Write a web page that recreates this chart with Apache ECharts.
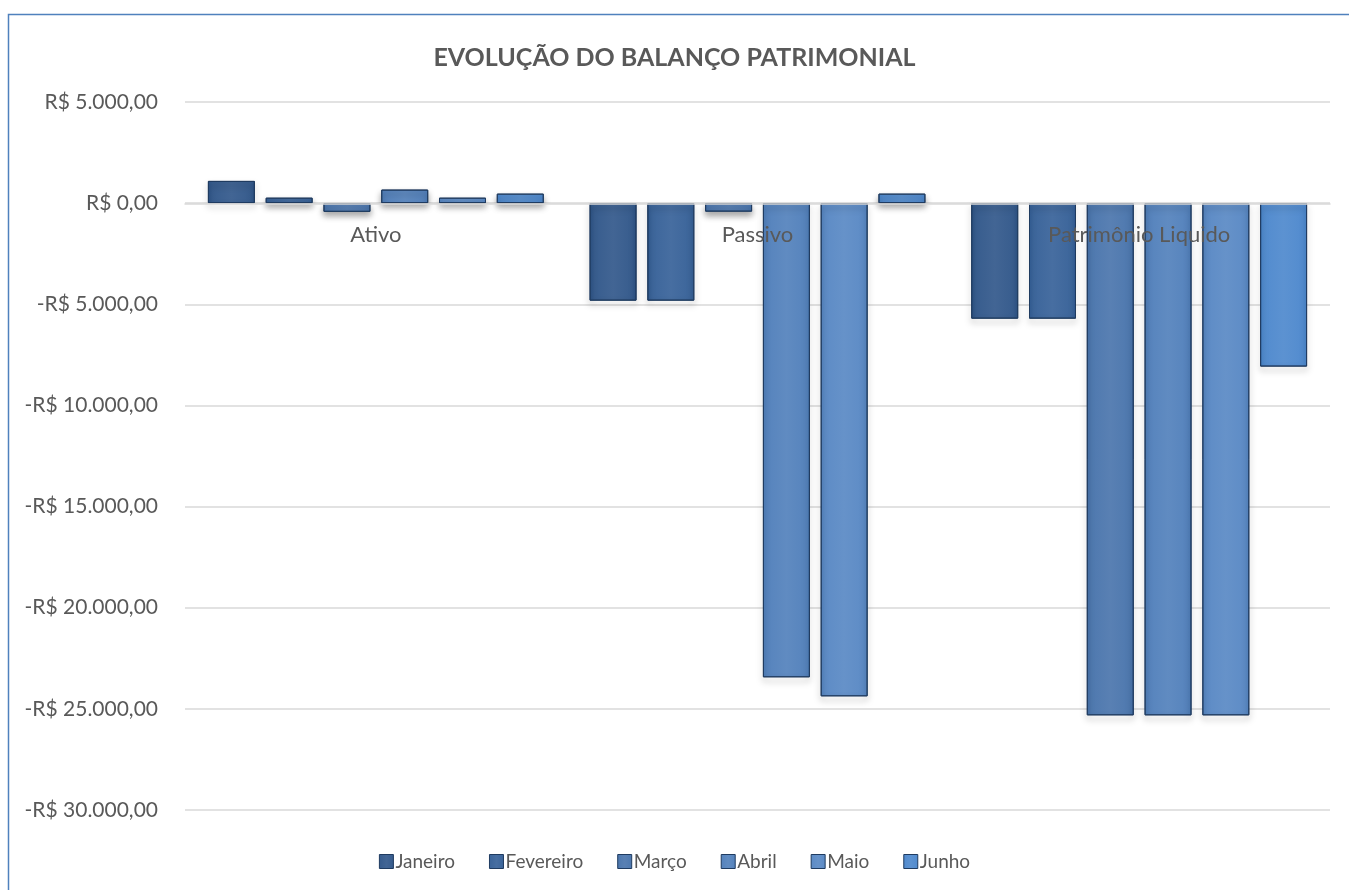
<!DOCTYPE html>
<html>
<head>
    <meta charset="utf-8">
    <title>Evolução do Balanço Patrimonial</title>
    <style>
        html, body { margin: 0; padding: 0; background: #fff; }
        #main { width: 1349px; height: 890px; }
    </style>
</head>
<body>
    <div id="main"></div>
    <script src="https://cdn.jsdelivr.net/npm/echarts@6/dist/echarts.min.js"></script>
    <script>
    var categorias = ['Ativo', 'Passivo', 'Patrimônio Liquido'];
    var meses = ['Janeiro', 'Fevereiro', 'Março', 'Abril', 'Maio', 'Junho'];
    var janeiro = [1100, -4820, -5710];
    var fevereiro = [270, -4820, -5710];
    var marco = [-430, -420, -25320];
    var abril = [670, -23440, -25320];
    var maio = [270, -24380, -25320];
    var junho = [470, 470, -8080];
    var valores = [janeiro, fevereiro, marco, abril, maio, junho];
    var cores = ['#2d5488', '#335e96', '#4672ab', '#4e7eba', '#5586c3', '#4a86cc'];

    function clarear(hex, f) {
        var n = parseInt(hex.slice(1), 16);
        var r = (n >> 16) & 255, g = (n >> 8) & 255, b = n & 255;
        r = Math.round(r + (255 - r) * f);
        g = Math.round(g + (255 - g) * f);
        b = Math.round(b + (255 - b) * f);
        return 'rgb(' + r + ',' + g + ',' + b + ')';
    }

    function moeda(v) {
        var s = Math.abs(v).toFixed(2).split('.');
        var inteiro = s[0].replace(/\B(?=(\d{3})+(?!\d))/g, '.');
        return (v < 0 ? '-' : '') + 'R$ ' + inteiro + ',' + s[1];
    }

    var fonte = 'Lato, "Open Sans", sans-serif';
    var myChart = echarts.init(document.getElementById('main'));

    var series = meses.map(function(m, i) {
        return {
            name: m,
            type: 'bar',
            z: 2,
            data: valores[i],
            barGap: '23%',
            barCategoryGap: '12%',
            itemStyle: {
                color: {
                    type: 'linear', x: 0, y: 0, x2: 1, y2: 0,
                    colorStops: [
                        { offset: 0, color: cores[i] },
                        { offset: 0.1, color: clarear(cores[i], 0.05) },
                        { offset: 0.5, color: clarear(cores[i], 0.1) },
                        { offset: 0.9, color: clarear(cores[i], 0.05) },
                        { offset: 1, color: cores[i] }
                    ]
                },
                borderColor: '#1f3b60',
                borderWidth: 1,
                shadowColor: 'rgba(0,0,0,0.35)',
                shadowBlur: 6,
                shadowOffsetY: 4
            }
        };
    });

    var option = {
        backgroundColor: '#fff',
        textStyle: { fontFamily: fonte },
        title: {
            text: 'EVOLUÇÃO DO BALANÇO PATRIMONIAL',
            left: 'center',
            top: 40,
            textStyle: { fontFamily: fonte, fontSize: 25, fontWeight: 'bold', color: '#595959' }
        },
        graphic: [{
            type: 'rect',
            shape: { x: 8.5, y: 14.5, width: 1400, height: 1000 },
            style: { fill: 'none', stroke: '#4f81bd', lineWidth: 1.5 },
            silent: true
        }],
        legend: {
            bottom: 14,
            left: 'center',
            itemWidth: 14,
            itemHeight: 14,
            itemGap: 34,
            icon: 'rect',
            itemStyle: { borderColor: '#1f3b60', borderWidth: 1 },
            textStyle: { fontFamily: fonte, fontSize: 19, color: '#595959', padding: [0, 0, 0, -3] },
            data: meses
        },
        grid: { left: 185, right: 19, top: 102, bottom: 80 },
        xAxis: {
            type: 'category',
            data: categorias,
            z: 10,
            offset: -606.5,
            axisLine: { onZero: false, lineStyle: { color: '#d9d9d9', width: 1.5 } },
            axisTick: { show: false },
            axisLabel: { fontFamily: fonte, fontSize: 22, color: '#595959', margin: 20 }
        },
        yAxis: {
            type: 'value',
            min: -30000,
            max: 5000,
            interval: 5000,
            axisLine: { show: false },
            axisTick: { show: false },
            splitLine: { lineStyle: { color: '#d9d9d9', width: 1.5 } },
            axisLabel: {
                fontFamily: fonte, fontSize: 21, color: '#595959', margin: 27,
                formatter: function(v) { return moeda(v); }
            }
        },
        series: series
    };
    myChart.setOption(option);
    </script>
</body>
</html>
